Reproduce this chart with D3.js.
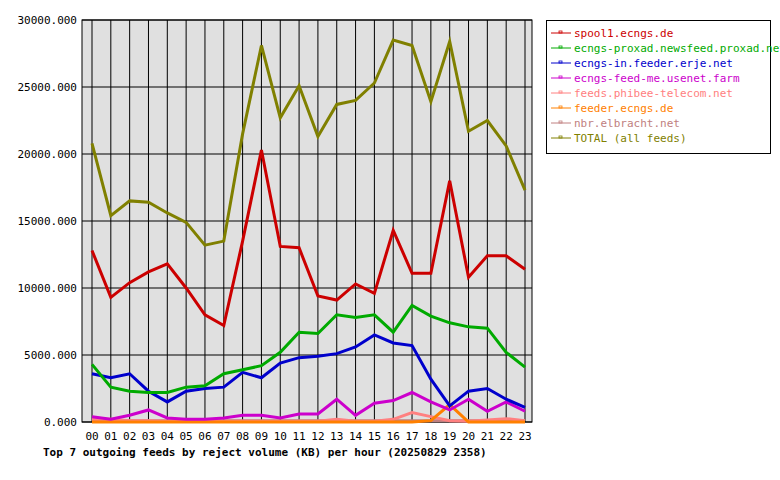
<!DOCTYPE html>
<html>
<head>
<script src="https://d3js.org/d3.v7.min.js"></script>
<style>
  body { margin: 0; background: #fff; }
  text { font-family: "DejaVu Sans Mono", monospace; font-size: 11px; }
</style>
</head>
<body>
<svg id="chart" width="780" height="480"></svg>
<script>
const hours = ["00","01","02","03","04","05","06","07","08","09","10","11","12","13","14","15","16","17","18","19","20","21","22","23"];
const names = ["spool1.ecngs.de","ecngs-proxad.newsfeed.proxad.net","ecngs-in.feeder.erje.net","ecngs-feed-me.usenet.farm","feeds.phibee-telecom.net","feeder.ecngs.de","nbr.elbracht.net","TOTAL (all feeds)"];
const colors = ["#cc0000","#00aa00","#0000cc","#cc00cc","#ff8080","#ff8000","#c08080","#808000"];
const spool1 = [12800,9300,10400,11200,11800,10000,8000,7200,13500,20300,13100,13000,9400,9100,10300,9600,14300,11100,11100,18000,10800,12400,12400,11400];
const proxad = [4300,2600,2300,2200,2200,2600,2700,3600,3900,4200,5200,6700,6600,8000,7800,8000,6700,8700,7900,7400,7100,7000,5200,4100];
const erje = [3600,3300,3600,2300,1500,2300,2500,2600,3700,3300,4400,4800,4900,5100,5600,6500,5900,5700,3200,1200,2300,2500,1700,1100];
const usenetFarm = [400,200,500,900,300,200,200,300,500,500,300,600,600,1700,500,1400,1600,2200,1500,900,1700,800,1500,800];
const phibee = [200,200,100,100,50,50,50,50,50,50,50,50,50,200,50,50,200,700,400,100,50,150,250,100];
const feederEcngs = [0,0,0,0,0,0,0,0,0,0,0,0,0,0,0,0,0,0,100,1300,0,0,0,0];
const elbracht = [100,100,100,100,100,100,100,100,100,100,100,100,100,100,100,100,100,100,100,100,100,100,100,100];
const total = [20800,15400,16500,16400,15600,14900,13200,13500,21500,28100,22700,25100,21300,23700,24000,25300,28500,28100,23900,28400,21700,22500,20600,17300];
const yTicks = [0,5000,10000,15000,20000,25000,30000];

const series = [spool1, proxad, erje, usenetFarm, phibee, feederEcngs, elbracht, total];
const svg = d3.select("#chart");
const pLeft = 82, pRight = 532, pTop = 20, pBottom = 422;

const x = d3.scalePoint().domain(hours).range([92, 525]);
const y = d3.scaleLinear().domain([0, 30000]).range([pBottom, pTop]);

svg.append("rect").attr("x", pLeft).attr("y", pTop).attr("width", pRight - pLeft).attr("height", pBottom - pTop)
  .attr("fill", "#e0e0e0").attr("stroke", "#000");

// vertical grid
svg.selectAll(".vg").data(hours).enter().append("line")
  .attr("x1", d => x(d)).attr("x2", d => x(d)).attr("y1", pTop).attr("y2", pBottom)
  .attr("stroke", "#000").attr("stroke-width", 1);
// horizontal grid
svg.selectAll(".hg").data(yTicks).enter().append("line")
  .attr("x1", pLeft).attr("x2", pRight).attr("y1", d => y(d)).attr("y2", d => y(d))
  .attr("stroke", "#000");

svg.selectAll(".yl").data(yTicks).enter().append("text")
  .attr("x", 77).attr("y", d => y(d) + 4).attr("text-anchor", "end")
  .text(d => d.toFixed(3));
svg.selectAll(".xl").data(hours).enter().append("text")
  .attr("x", d => x(d)).attr("y", 440).attr("text-anchor", "middle").text(d => d);

const line = d3.line().x((d, i) => x(hours[i])).y(d => y(d));
// small series first, total last
[6,4,5,3,2,1,0,7].forEach(k => {
  svg.append("path").datum(series[k]).attr("d", line)
    .attr("fill", "none").attr("stroke", colors[k]).attr("stroke-width", 3);
});

svg.append("text").attr("x", 43).attr("y", 456).attr("font-weight", "bold").text("Top 7 outgoing feeds by reject volume (KB) per hour (20250829 2358)");

// legend
const lg = svg.append("g");
lg.append("rect").attr("x", 546.5).attr("y", 20.5).attr("width", 224).attr("height", 133)
  .attr("fill", "#fff").attr("stroke", "#000");
names.forEach((n, i) => {
  const ly = 33 + i * 15;
  lg.append("line").attr("x1", 551).attr("x2", 571).attr("y1", ly).attr("y2", ly).attr("stroke", colors[i]);
  lg.append("rect").attr("x", 559).attr("y", ly - 2).attr("width", 3).attr("height", 2).attr("fill", "none").attr("stroke", colors[i]).attr("stroke-width", 0.8);
  lg.append("text").attr("x", 574).attr("y", ly + 4).attr("fill", colors[i]).text(n);
});
</script>
</body>
</html>
